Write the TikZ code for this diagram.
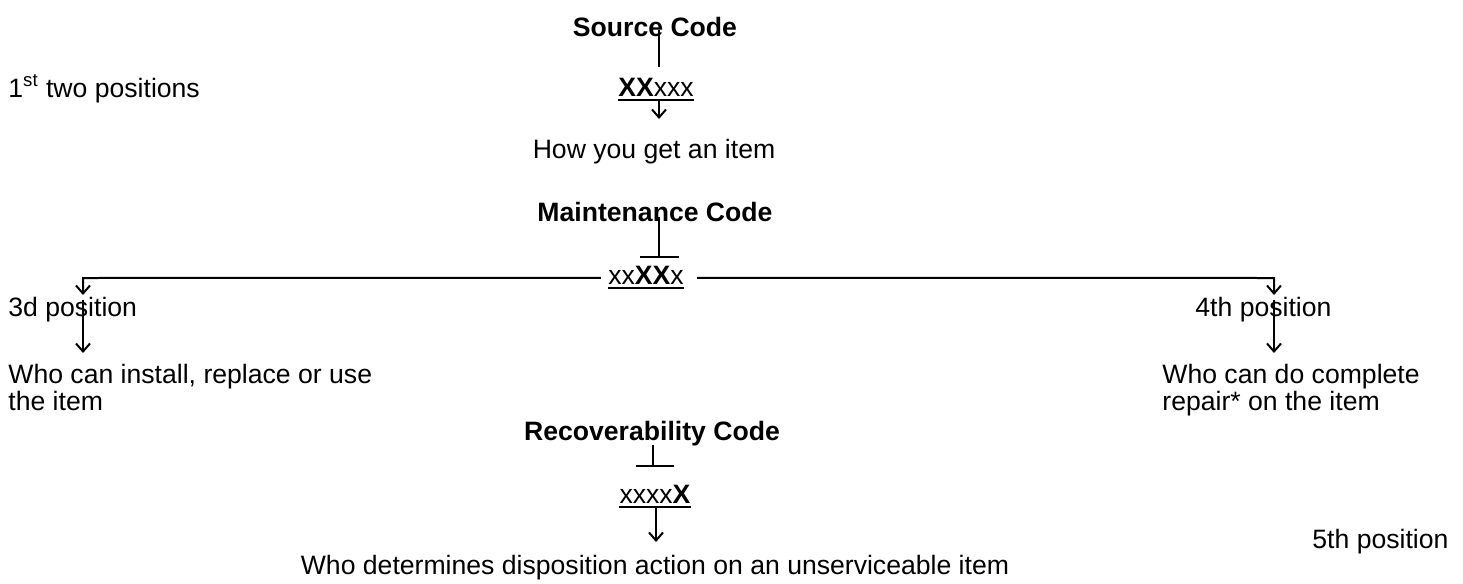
\documentclass[tikz,border=0pt]{standalone}
\usepackage{fontspec}
\setmainfont{Liberation Sans}
\usetikzlibrary{arrows.meta}

\begin{document}
\begin{tikzpicture}[x=0.5pt,y=-0.5pt,
	txt/.style={inner sep=0pt,font=\fontsize{13.3}{12}\selectfont},
	ttl/.style={txt,font=\fontsize{13.3}{12}\selectfont\bfseries},
	ln/.style={line width=1pt},
	arr/.style={ln,-{Straight Barb[length=4pt,width=7pt]}}]
		%%%%% START %%%%%
		\useasboundingbox (0,0) rectangle (1463,584);
		
		% source code
		\node[ttl,anchor=base] (src) at (655,36) {Source Code};
		\node[txt,anchor=base west] (first) at (8,97) {1\textsuperscript{st} two positions};
		\node[txt,anchor=base] (xsrc) at (656,96) {\textbf{XX}xxx};
		\node[txt,anchor=base] (how) at (654,158) {How you get an item};
		
		\coordinate (srctop) at (659,30);
		\coordinate (srcbot) at (659,67);
		\coordinate (srcul) at (659,99);
		\coordinate (srcend) at (659,119);
		\draw[ln] (srctop) -- (srcbot);
		\draw[ln] ([yshift=-1.75pt]xsrc.base west) -- ([yshift=-1.75pt]xsrc.base east);
		\draw[arr] (srcul) -- (srcend);
		
		% maintenance code
		\node[ttl,anchor=base] (mnt) at (655,221) {Maintenance Code};
		\node[txt,anchor=base] (xmnt) at (646,284) {xx\textbf{XX}x};
		\node[txt,anchor=base west] (third) at (8,316) {3d position};
		\node[txt,anchor=base west] (fourth) at (1195,316) {4th position};
		\node[txt,anchor=north west,align=left] (who3) at (8,364) {Who can install, replace or use\\the item};
		\node[txt,anchor=north west,align=left] (who4) at (1162,364) {Who can do complete\\repair* on the item};
		
		\coordinate (mnttop) at (659,217);
		\coordinate (mntbot) at (659,257);
		\coordinate (barl) at (640,257);
		\coordinate (barr) at (679,257);
		\coordinate (lcorner) at (83,278);
		\coordinate (rcorner) at (1274,278);
		\coordinate (ltip) at (83,295);
		\coordinate (rtip) at (1274,295);
		\coordinate (lstart) at (83,300);
		\coordinate (rstart) at (1274,300);
		\coordinate (lend) at (83,353);
		\coordinate (rend) at (1274,353);
		\draw[ln] (mnttop) -- (mntbot);
		\draw[ln] (barl) -- (barr);
		\draw[ln] ([yshift=-1.75pt]xmnt.base west) -- ([yshift=-1.75pt]xmnt.base east);
		\draw[arr] ([xshift=-3.5pt,yshift=-1.5pt]xmnt.west) -- (lcorner) -- (ltip);
		\draw[arr] ([xshift=6.5pt,yshift=-1.5pt]xmnt.east) -- (rcorner) -- (rtip);
		\draw[arr] (lstart) -- (lend);
		\draw[arr] (rstart) -- (rend);
		
		% recoverability code
		\node[ttl,anchor=base] (rec) at (652,440) {Recoverability Code};
		\node[txt,anchor=base] (xrec) at (655,503) {xxxx\textbf{X}};
		\node[txt,anchor=base] (who5) at (655,574) {Who determines disposition action on an unserviceable item};
		\node[txt,anchor=base west] (fifth) at (1312,548) {5th position};
		
		\coordinate (rectop) at (653,445);
		\coordinate (recbot) at (653,466);
		\coordinate (rbarl) at (636,466);
		\coordinate (rbarr) at (674,466);
		\coordinate (recul) at (656,506);
		\coordinate (recend) at (656,542);
		\draw[ln] (rectop) -- (recbot);
		\draw[ln] (rbarl) -- (rbarr);
		\draw[ln] ([yshift=-1.75pt]xrec.base west) -- ([yshift=-1.75pt]xrec.base east);
		\draw[arr] (recul) -- (recend);
		
		%%%%% END %%%%%
	\end{tikzpicture}
\end{document}
